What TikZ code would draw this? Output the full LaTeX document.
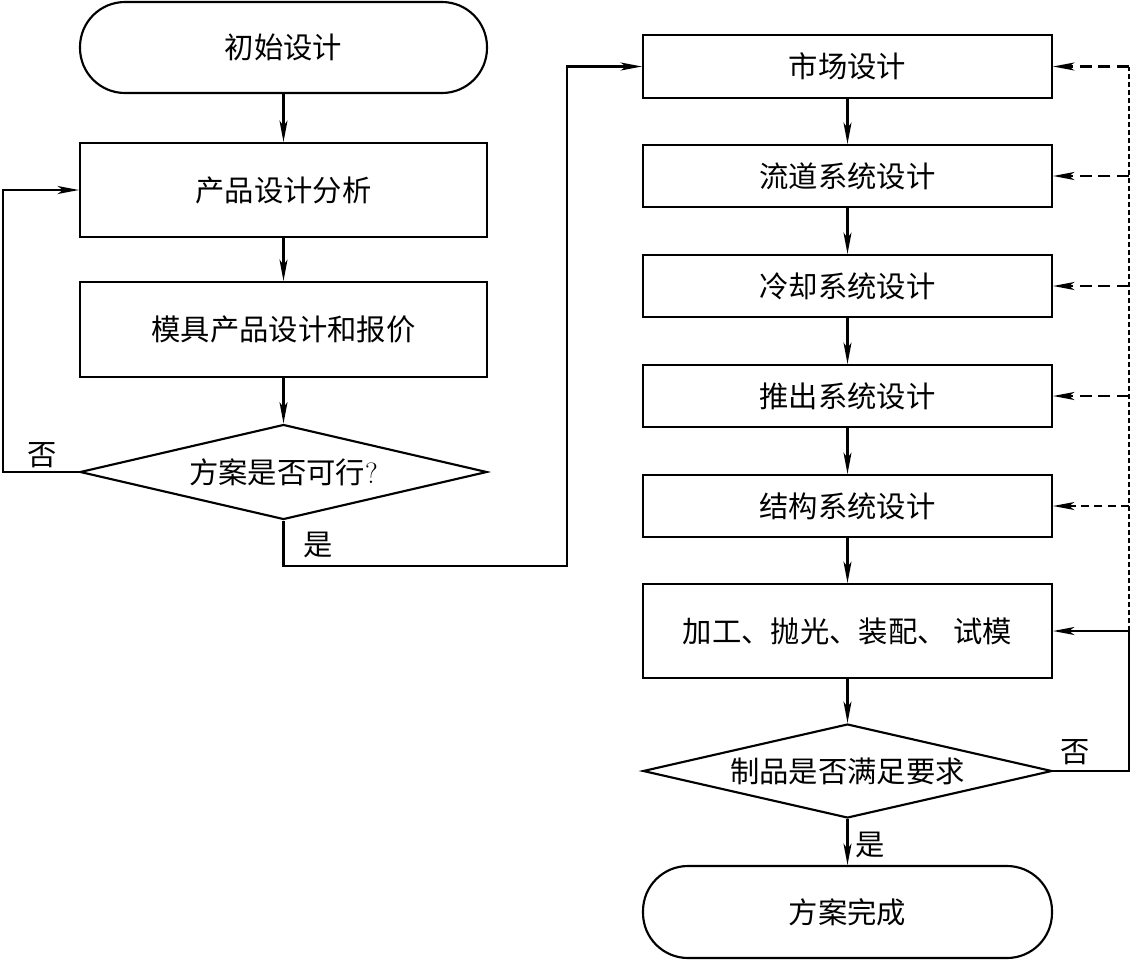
\documentclass[tikz,border=0pt]{standalone}
\usepackage{fontspec}
\newfontfamily\cjk{Noto Sans CJK SC}
\usetikzlibrary{shapes.geometric,arrows.meta}
\def\px{0.75pt}
\tikzset{
  base/.style={draw, line width=1.6pt, inner sep=0pt, font=\cjk\fontsize{22pt}{26pt}\selectfont},
  box/.style={base, rectangle, minimum width=409*\px},
  term/.style={base, rectangle, rounded corners=45*\px, minimum width=407*\px, minimum height=91*\px},
  dec/.style={base, diamond, aspect=4.3, minimum width=409*\px, minimum height=95*\px},
  lbl/.style={font=\cjk\fontsize{22pt}{26pt}\selectfont, inner sep=0pt},
  arr/.style={line width=1.6pt, -{Stealth[length=16pt,width=6pt,inset=4pt]}},
  darr/.style={arr, dash pattern=on 9pt off 5pt},
  dline/.style={line width=1.6pt, dash pattern=on 3.5pt off 2.5pt}
}
\begin{document}
\begin{tikzpicture}[x=0.75pt,y=-0.75pt]
\useasboundingbox (0,0) rectangle (1132,961);
% left column
\node[term] (start) at (283.5,47.5) {初始设计};
\node[box, minimum width=407*\px, minimum height=94*\px] (anal) at (283.5,190) {产品设计分析};
\node[box, minimum width=407*\px, minimum height=95*\px] (quote) at (283.5,329.5) {模具产品设计和报价};
\node[dec, minimum width=407*\px] (dec1) at (283.5,472) {方案是否可行{\rmfamily ?}};
% right column
\node[box, minimum height=63*\px] (mkt) at (847.5,66.5) {市场设计};
\node[box, minimum height=62*\px] (runner) at (847.5,176) {流道系统设计};
\node[box, minimum height=62*\px] (cool) at (847.5,286) {冷却系统设计};
\node[box, minimum height=62*\px] (eject) at (847.5,396) {推出系统设计};
\node[box, minimum height=62*\px] (struct) at (847.5,506) {结构系统设计};
\node[box, minimum height=94*\px] (proc) at (847.5,631) {加工、抛光、装配、 试模};
\node[dec, minimum height=94*\px] (dec2) at (847.5,771) {制品是否满足要求};
\node[term, minimum width=409*\px, minimum height=92*\px] (done) at (847.5,912) {方案完成};
% coordinates
\coordinate (lno) at (3,472);
\coordinate (yesx) at (567,566);
\coordinate (fb) at (1129,631);
% left flow
\draw[arr] (start) -- (anal);
\draw[arr] (anal) -- (quote);
\draw[arr] (quote) -- (dec1);
\draw[arr] (dec1.west) -- (lno) |- (anal.west);
\draw[arr] (dec1.south) |- (yesx) |- (mkt.west);
% right flow
\draw[arr] (mkt) -- (runner);
\draw[arr] (runner) -- (cool);
\draw[arr] (cool) -- (eject);
\draw[arr] (eject) -- (struct);
\draw[arr] (struct) -- (proc);
\draw[arr] (proc) -- (dec2);
\draw[arr] (dec2) -- (done);
\draw[arr] (dec2.east) -| (fb) -- (proc.east);
\draw[dline] (fb) -- (fb |- mkt.east);
\draw[darr] (fb |- mkt.east) -- (mkt.east);
\draw[darr] (fb |- runner.east) -- (runner.east);
\draw[darr] (fb |- cool.east) -- (cool.east);
\draw[darr] (fb |- eject.east) -- (eject.east);
\draw[darr, line width=1.1pt, dash pattern=on 6pt off 4pt] (fb |- struct.east) -- (struct.east);
% labels
\node[lbl] (no1) at (42,455) {否};
\node[lbl] (yes1) at (318,545) {是};
\node[lbl] (no2) at (1075,752) {否};
\node[lbl] (yes2) at (870,845) {是};
\end{tikzpicture}
\end{document}
